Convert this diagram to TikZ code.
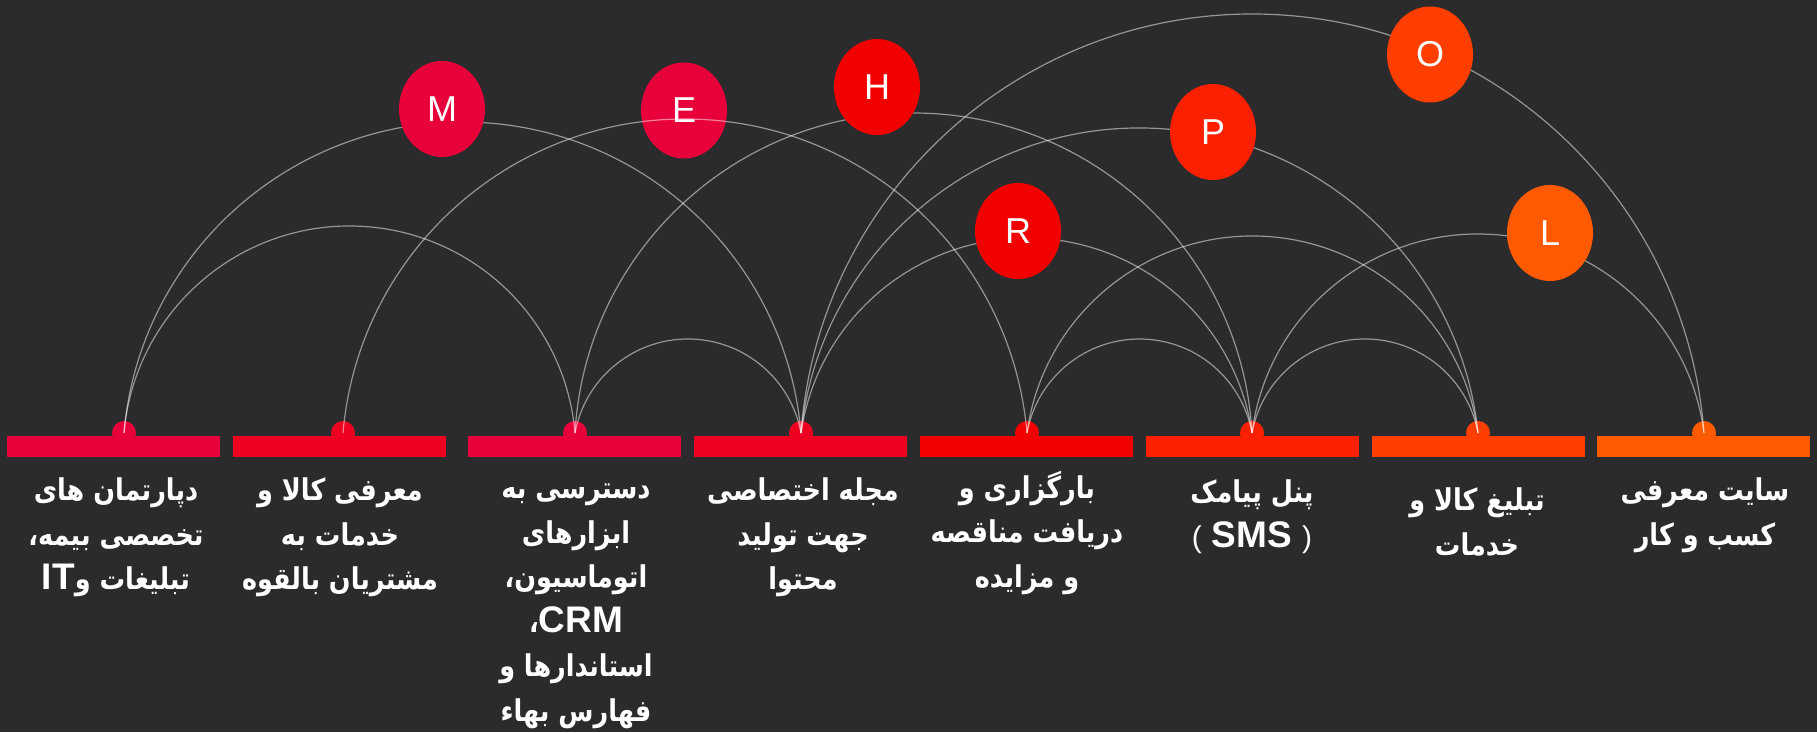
\documentclass[tikz,border=0pt]{standalone}
\usepackage{fontspec}
\setmainfont{Liberation Sans}
\newfontfamily\latinfont{Liberation Sans}
\newfontfamily\persianfont[Script=Arabic, FakeStretch=0.85]{DejaVu Sans}
\TeXXeTstate=1
\usetikzlibrary{shapes.geometric,calc}
\definecolor{bgcolor}{RGB}{43,43,45}
\definecolor{color0}{RGB}{232,0,58}
\definecolor{color1}{RGB}{238,0,32}
\definecolor{color2}{RGB}{242,0,0}
\definecolor{color4}{RGB}{250,32,0}
\definecolor{color6}{RGB}{255,62,0}
\definecolor{color7}{RGB}{255,90,0}
\tikzstyle{bar}=[rectangle, minimum width=213pt, minimum height=21pt, inner sep=0pt]
\tikzstyle{bump}=[circle, minimum size=24pt, inner sep=0pt]
\tikzstyle{letter node}=[ellipse, minimum width=86pt, minimum height=96pt, inner sep=0pt, text=white, font=\latinfont\fontsize{36}{36}\selectfont]
\tikzstyle{link}=[draw=white, draw opacity=0.5, line width=1.2pt]
\tikzstyle{caption}=[text=white, align=center, anchor=north, inner sep=0pt, execute at begin node=\strut, font=\persianfont\bfseries\fontsize{30}{44.5}\selectfont]
\newcommand{\rl}[1]{\beginR #1\endR}
\newcommand{\lt}[1]{\beginL{\latinfont\fontsize{37}{44.5}\selectfont #1}\endL}
% arc from one bump to another, #3 = height of the arc
\newcommand{\linkarc}[3]{%
  \draw[link] let \p1=(#1.center), \p2=(#2.center),
    \n1={(\x2-\x1)/200}, \n2={#3/100},
    \n3={(\n1*\n1+\n2*\n2)/(2*\n2)},
    \n4={atan2(\n3-\n2,\n1)}
    in (\p1) arc[start angle=180-\n4, end angle=\n4, radius=100*\n3];
}

\begin{document}
\begin{tikzpicture}[x=1pt,y=1pt]
\fill[bgcolor] (0,0) rectangle (1817,732);
\useasboundingbox (0,0) rectangle (1817,732);

	% Bumps on the bars
    \foreach \i/\px/\col in {1/124/color0,2/343/color1,3/575/color0,4/801/color1,5/1027/color2,6/1252/color4,7/1478/color6,8/1704/color7}
        \node[bump, fill=\col] (bump-\i) at (\px,299) {};

    % E lies under its arc
    \node[letter node, fill=color0] (E) at (684,621.5) {E};

	% Arcs
    \linkarc{bump-1}{bump-3}{207}
    \linkarc{bump-1}{bump-4}{311}
    \linkarc{bump-2}{bump-5}{314}
    \linkarc{bump-3}{bump-4}{94}
    \linkarc{bump-3}{bump-6}{320}
    \linkarc{bump-4}{bump-6}{195}
    \linkarc{bump-4}{bump-7}{305}
    \linkarc{bump-4}{bump-8}{419}
    \linkarc{bump-5}{bump-6}{94}
    \linkarc{bump-5}{bump-7}{197}
    \linkarc{bump-6}{bump-7}{94}
    \linkarc{bump-6}{bump-8}{199}

	% Letters
    \node[letter node, fill=color0] (M) at (442,623) {M};
    \node[letter node, fill=color2] (H) at (877,645) {H};
    \node[letter node, fill=color2] (R) at (1018,501) {R};
    \node[letter node, fill=color4] (P) at (1213,600) {P};
    \node[letter node, fill=color6] (O) at (1430,677.5) {O};
    \node[letter node, fill=color7] (L) at (1550,499) {L};

	% Bars
    \foreach \i/\bx/\col in {1/113.5/color0,2/339.5/color1,3/574.5/color0,4/800.5/color1,5/1026.5/color2,6/1252.5/color4,7/1478.5/color6,8/1703.5/color7}
        \node[bar, fill=\col] (bar-\i) at (\bx,285.5) {};

	% Texts
    \node[caption] (text-1) at (116,254) {\rl{دپارتمان های}\\ \rl{تخصصی بیمه،}\\ \rl{تبلیغات و\lt{IT}}};
    \node[caption] (text-2) at (340,254) {\rl{معرفی کالا و}\\ \rl{خدمات به}\\ \rl{مشتریان بالقوه}};
    \node[caption] (text-3) at (576,248) {\rl{دسترسی به}\\ \rl{ابزارهای}\\ \rl{اتوماسیون،}\\ \rl{\lt{CRM}،}\\ \rl{استاندارها و}\\ \rl{فهارس بهاء}};
    \node[caption] (text-4) at (803,254) {\rl{مجله اختصاصی}\\ \rl{جهت تولید}\\ \rl{محتوا}};
    \node[caption] (text-5) at (1027,261) {\rl{بارگزاری و}\\ \rl{دریافت مناقصه}\\ \rl{و مزایده}};
    \node[caption] (text-6) at (1252,252) {\rl{پنل پیامک}\\ {\latinfont\mdseries\fontsize{30}{44.5}\selectfont(}\hspace{10pt}\lt{SMS}\hspace{10pt}{\latinfont\mdseries\fontsize{30}{44.5}\selectfont)}};
    \node[caption] (text-7) at (1477,244) {\rl{تبلیغ کالا و}\\ \rl{خدمات}};
    \node[caption] (text-8) at (1705,254) {\rl{سایت معرفی}\\ \rl{کسب و کار}};

\end{tikzpicture}
\end{document}
